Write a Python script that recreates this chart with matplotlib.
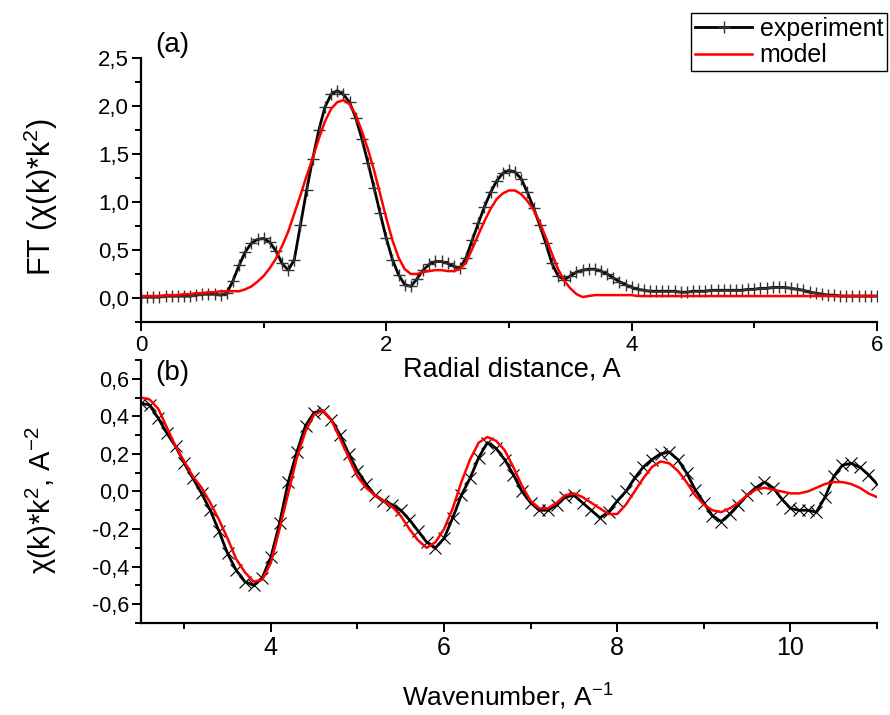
import numpy as np
import matplotlib
matplotlib.use("Agg")
import matplotlib.pyplot as plt
from matplotlib.ticker import MultipleLocator, FuncFormatter

plt.rcParams["font.family"] = ["Liberation Sans", "DejaVu Sans"]
plt.rcParams["mathtext.fontset"] = "custom"
plt.rcParams["mathtext.rm"] = "Liberation Sans"
plt.rcParams["mathtext.default"] = "regular"
plt.rcParams["axes.unicode_minus"] = False

# (a) Fourier transform, R grid 0..6 step 0.05
r = np.round(np.arange(0, 6.0001, 0.05), 2)
ft_exp = [
    0.01, 0.01, 0.01, 0.01, 0.02, 0.02, 0.02, 0.02, 0.02, 0.03,
    0.04, 0.04, 0.04, 0.03, 0.05, 0.18, 0.34, 0.48, 0.57, 0.61,
    0.62, 0.58, 0.49, 0.36, 0.29, 0.40, 0.76, 1.12, 1.45, 1.75,
    1.99, 2.12, 2.16, 2.12, 2.04, 1.88, 1.66, 1.41, 1.15, 0.88,
    0.62, 0.40, 0.24, 0.14, 0.12, 0.20, 0.29, 0.35, 0.38, 0.38,
    0.36, 0.33, 0.31, 0.42, 0.60, 0.78, 0.95, 1.10, 1.22, 1.30,
    1.33, 1.31, 1.24, 1.10, 0.94, 0.76, 0.57, 0.36, 0.23, 0.19,
    0.23, 0.27, 0.29, 0.30, 0.30, 0.28, 0.25, 0.21, 0.17, 0.14,
    0.11, 0.09, 0.08, 0.07, 0.07, 0.07, 0.07, 0.07, 0.06, 0.06,
    0.07, 0.07, 0.07, 0.08, 0.08, 0.08, 0.08, 0.08, 0.08, 0.09,
    0.09, 0.10, 0.10, 0.11, 0.11, 0.11, 0.10, 0.09, 0.08, 0.06,
    0.05, 0.04, 0.03, 0.03, 0.02, 0.02, 0.02, 0.02, 0.02, 0.02,
    0.02,
]
ft_model = [
    0.02, 0.02, 0.02, 0.02, 0.03, 0.03, 0.03, 0.04, 0.04, 0.05,
    0.05, 0.06, 0.06, 0.07, 0.07, 0.07, 0.07, 0.09, 0.12, 0.17,
    0.23, 0.31, 0.41, 0.54, 0.69, 0.88, 1.07, 1.27, 1.46, 1.66,
    1.84, 1.97, 2.04, 2.06, 2.02, 1.91, 1.74, 1.55, 1.33, 1.08,
    0.83, 0.60, 0.42, 0.30, 0.25, 0.25, 0.27, 0.28, 0.29, 0.29,
    0.28, 0.28, 0.30, 0.37, 0.51, 0.66, 0.80, 0.93, 1.03, 1.09,
    1.12, 1.12, 1.08, 1.01, 0.92, 0.79, 0.63, 0.46, 0.30, 0.18,
    0.10, 0.04, 0.01, 0.02, 0.03, 0.03, 0.03, 0.03, 0.03, 0.03,
    0.03, 0.02, 0.02, 0.02, 0.02, 0.02, 0.02, 0.02, 0.02, 0.02,
    0.02, 0.02, 0.02, 0.02, 0.02, 0.02, 0.02, 0.02, 0.02, 0.02,
    0.02, 0.02, 0.02, 0.02, 0.02, 0.02, 0.02, 0.02, 0.02, 0.02,
    0.02, 0.02, 0.02, 0.02, 0.02, 0.02, 0.02, 0.02, 0.02, 0.02,
    0.02,
]

# (b) chi(k)*k^2, k grid 2.5..11 step 0.1
k = np.round(np.arange(2.5, 11.0001, 0.1), 1)
chi_exp = [
    0.47, 0.46, 0.39, 0.31, 0.24, 0.15, 0.07, -0.01, -0.10, -0.21,
    -0.33, -0.42, -0.48, -0.50, -0.46, -0.35, -0.17, 0.05, 0.21, 0.35,
    0.42, 0.43, 0.38, 0.30, 0.20, 0.11, 0.04, -0.02, -0.05, -0.07,
    -0.10, -0.15, -0.21, -0.27, -0.30, -0.25, -0.14, -0.02, 0.07, 0.18,
    0.26, 0.23, 0.17, 0.09, 0.00, -0.06, -0.10, -0.10, -0.07, -0.03,
    -0.02, -0.06, -0.10, -0.14, -0.11, -0.05, 0.00, 0.07, 0.13, 0.17,
    0.20, 0.21, 0.17, 0.10, 0.01, -0.06, -0.13, -0.16, -0.12, -0.07,
    -0.02, 0.02, 0.05, 0.02, -0.04, -0.09, -0.10, -0.10, -0.11, -0.03,
    0.08, 0.14, 0.15, 0.13, 0.09, 0.04,
]
chi_model = [
    0.50, 0.49, 0.44, 0.34, 0.24, 0.16, 0.08, 0.02, -0.06, -0.15,
    -0.25, -0.36, -0.43, -0.48, -0.47, -0.38, -0.20, -0.01, 0.18, 0.32,
    0.41, 0.43, 0.38, 0.28, 0.18, 0.08, 0.02, -0.02, -0.05, -0.08,
    -0.13, -0.20, -0.26, -0.30, -0.27, -0.20, -0.09, 0.05, 0.17, 0.26,
    0.29, 0.27, 0.22, 0.13, 0.03, -0.05, -0.09, -0.09, -0.06, -0.02,
    -0.01, -0.03, -0.06, -0.09, -0.12, -0.12, -0.07, 0.00, 0.07, 0.13,
    0.16, 0.15, 0.11, 0.05, -0.02, -0.07, -0.10, -0.11, -0.09, -0.06,
    -0.02, 0.01, 0.02, 0.01, 0.00, -0.01, -0.01, 0.00, 0.02, 0.04,
    0.05, 0.05, 0.04, 0.02, -0.01, -0.03,
]


def comma(v, _):
    s = f"{v:.1f}".replace(".", ",")
    return "0,0" if s == "-0,0" else s


def style(ax, tick_x, tick_y):
    for side in ("top", "right"):
        ax.spines[side].set_visible(False)
    for side in ("left", "bottom"):
        ax.spines[side].set_linewidth(1.6)
    ax.tick_params(which="major", direction="out", length=6.5, width=1.4)
    ax.tick_params(which="minor", direction="out", length=4, width=1.4)
    ax.tick_params(axis="x", labelsize=tick_x, pad=3)
    ax.tick_params(axis="y", labelsize=tick_y, pad=2)
    ax.yaxis.set_major_formatter(FuncFormatter(comma))


fig = plt.figure(figsize=(8.9, 7.15), dpi=100)
ax1 = fig.add_axes([0.1584, 0.5497, 0.827, 0.3692])
ax2 = fig.add_axes([0.1584, 0.1287, 0.827, 0.3678])

ax1.plot(r, ft_exp, color="black", lw=2.0, marker="+", ms=8, mew=1.0,
         mec="#333333", label="experiment")
ax1.plot(r, ft_model, color="red", lw=1.8, label="model")
ax1.set_xlim(0, 6)
ax1.set_ylim(-0.25, 2.5)
ax1.xaxis.set_major_locator(MultipleLocator(2))
ax1.xaxis.set_minor_locator(MultipleLocator(1))
ax1.yaxis.set_major_locator(MultipleLocator(0.5))
ax1.yaxis.set_minor_locator(MultipleLocator(0.25))
style(ax1, 16, 16)

ax2.plot(k, chi_exp, color="black", lw=2.0, marker="x", ms=9, mew=0.8)
ax2.plot(k, chi_model, color="red", lw=1.8)
ax2.set_xlim(2.5, 11)
ax2.set_ylim(-0.7, 0.7)
ax2.xaxis.set_major_locator(MultipleLocator(2))
ax2.xaxis.set_minor_locator(MultipleLocator(1))
ax2.yaxis.set_major_locator(MultipleLocator(0.2))
ax2.yaxis.set_minor_locator(MultipleLocator(0.1))
style(ax2, 18, 15.5)

fig.text(512 / 890, 1 - 370 / 715, "Radial distance, A", fontsize=19.5,
         ha="center", va="center")
fig.text(508 / 890, 1 - 697 / 715, "Wavenumber, A$^{-1}$", fontsize=19,
         ha="center", va="center")
fig.text(41 / 890, 1 - 197 / 715, "FT (χ(k)*k$^{2}$)", fontsize=22,
         rotation=90, ha="center", va="center")
fig.text(41 / 890, 1 - 500 / 715, "χ(k)*k$^{2}$, A$^{-2}$", fontsize=21,
         rotation=90, ha="center", va="center")
fig.text(155 / 890, 1 - 45 / 715, "(a)", fontsize=20, ha="left", va="center")
fig.text(155 / 890, 1 - 373 / 715, "(b)", fontsize=20, ha="left", va="center")

leg = ax1.legend(loc="upper right", bbox_to_anchor=(887 / 890, 1 - 13 / 715),
                 bbox_transform=fig.transFigure, fontsize=18, frameon=True,
                 fancybox=False, framealpha=1, edgecolor="black",
                 borderpad=0.15, labelspacing=0.1, handlelength=2.3,
                 handletextpad=0.3, borderaxespad=0)
leg.get_frame().set_linewidth(1.0)

fig.savefig("out.png", dpi=100)
